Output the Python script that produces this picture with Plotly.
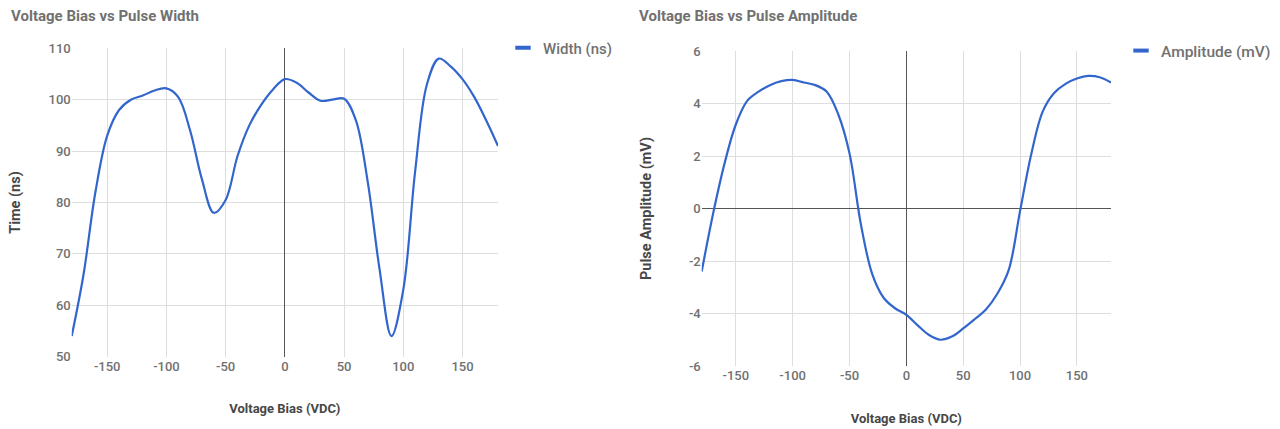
import plotly.graph_objects as go

# ---- data ----
bias = [-180, -170, -160, -150, -140, -130, -120, -110, -100, -90, -80, -70, -60, -50,
        -40, -30, -20, -10, 0, 10, 20, 30, 40, 50, 60, 70, 80, 90, 100, 110, 120,
        130, 140, 150, 160, 170, 180]
width_ns = [54, 66, 82, 93, 98, 100, 100.8, 101.8, 102.2, 100.5, 94, 84.5, 78, 80.5,
            89, 95, 99, 102, 104, 103.3, 101.4, 99.8, 100, 100.2, 96, 84, 67, 54, 63,
            86, 103, 108, 106.5, 104, 100.5, 96, 91]
amplitude_mv = [-2.4, -0.2, 1.7, 3.2, 4.1, 4.45, 4.7, 4.85, 4.9, 4.8, 4.7, 4.45, 3.6, 2.1,
                -0.6, -2.5, -3.4, -3.8, -4.05, -4.45, -4.82, -5.0, -4.88, -4.57, -4.22, -3.85,
                -3.25, -2.35, -0.1, 2.1, 3.7, 4.4, 4.75, 4.95, 5.05, 5.0, 4.8]
x_ticks = [-150, -100, -50, 0, 50, 100, 150]
x_tick_labels = ["-150", "-100", "-50", "0", "50", "100", "150"]
width_ticks = [50, 60, 70, 80, 90, 100, 110]
width_tick_labels = ["50", "60", "70", "80", "90", "100", "110"]
amp_ticks = [-6, -4, -2, 0, 2, 4, 6]
amp_tick_labels = ["-6", "-4", "-2", "0", "2", "4", "6"]

BLUE = "#3366cc"
GRID = "#dedede"
TICK = "#717171"
AXT = "#474747"
FONT = "Roboto"
W, H = 1280, 429

fig = go.Figure()

legend_marker = dict(symbol="line-ew-open", size=11, color=BLUE, line=dict(color=BLUE, width=4))

fig.add_trace(go.Scatter(x=bias, y=width_ns, mode="lines", line=dict(color=BLUE, width=2.2, shape="spline"),
                         xaxis="x", yaxis="y", showlegend=False, hoverinfo="x+y"))
fig.add_trace(go.Scatter(x=[None], y=[None], mode="markers", name="Width (ns)", marker=legend_marker,
                         xaxis="x", yaxis="y", legend="legend"))
fig.add_trace(go.Scatter(x=bias, y=amplitude_mv, mode="lines", line=dict(color=BLUE, width=2.2, shape="spline"),
                         xaxis="x2", yaxis="y2", showlegend=False, hoverinfo="x+y"))
fig.add_trace(go.Scatter(x=[None], y=[None], mode="markers", name="Amplitude (mV)", marker=legend_marker,
                         xaxis="x2", yaxis="y2", legend="legend2"))

def px_x(p):
    return p / W

def px_y(p):
    return 1 - p / H

common_x = dict(range=[-180, 180], tickvals=x_ticks, ticktext=x_tick_labels, showgrid=True,
                gridcolor=GRID, gridwidth=1, automargin=False,
                zeroline=True, zerolinecolor="#555555", zerolinewidth=1.3, showline=False,
                ticks="", tickfont=dict(family=FONT, size=13, color=TICK, weight=500),
                title_font=dict(family=FONT, size=13, color=AXT, weight="bold"), fixedrange=True)
common_y = dict(showgrid=True, gridcolor=GRID, gridwidth=1, showline=False, ticks="", automargin=False,
                tickfont=dict(family=FONT, size=13, color=TICK, weight=500),
                title_font=dict(family=FONT, size=14.5, color=AXT, weight="bold"), fixedrange=True)

fig.update_layout(
    width=W, height=H,
    margin=dict(l=0, r=0, t=0, b=0),
    paper_bgcolor="white", plot_bgcolor="white",
    font=dict(family=FONT, color=TICK),
    xaxis=dict(common_x, domain=[px_x(71.7), px_x(498)], anchor="y",
               title=dict(text="Voltage Bias (VDC)", standoff=31)),
    yaxis=dict(common_y, domain=[px_y(356.7), px_y(48.3)], anchor="x", range=[50, 110],
               tickvals=width_ticks, ticktext=width_tick_labels, zeroline=False,
               title=dict(text="Time (ns)", standoff=24)),
    xaxis2=dict(common_x, domain=[px_x(701.7), px_x(1111)], anchor="y2",
                title=dict(text="Voltage Bias (VDC)", standoff=31)),
    yaxis2=dict(common_y, domain=[px_y(366), px_y(51)], anchor="x2", range=[-6, 6],
                tickvals=amp_ticks, ticktext=amp_tick_labels,
                zeroline=True, zerolinecolor="#555555", zerolinewidth=1.3,
                title=dict(text="Pulse Amplitude (mV)", standoff=33)),
    legend=dict(x=px_x(503), y=px_y(48), xanchor="left", yanchor="middle", bgcolor="rgba(0,0,0,0)",
                font=dict(family=FONT, size=15, color=TICK, weight=500), itemwidth=30),
    legend2=dict(x=px_x(1121), y=px_y(51), xanchor="left", yanchor="middle", bgcolor="rgba(0,0,0,0)",
                 font=dict(family=FONT, size=15.5, color=TICK, weight=500), itemwidth=30),
    annotations=[
        dict(text="Voltage Bias vs Pulse Width", x=px_x(9), y=px_y(16), xref="paper", yref="paper",
             xanchor="left", yanchor="middle", showarrow=False,
             font=dict(family=FONT, size=15, color=TICK, weight="bold")),
        dict(text="Voltage Bias vs Pulse Amplitude", x=px_x(637), y=px_y(16), xref="paper", yref="paper",
             xanchor="left", yanchor="middle", showarrow=False,
             font=dict(family=FONT, size=15, color=TICK, weight="bold")),
    ],
)

fig.write_html("out.html")
